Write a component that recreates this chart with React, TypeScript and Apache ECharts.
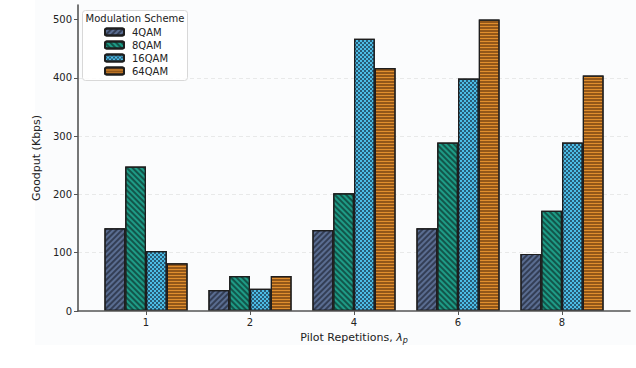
import React, { useEffect, useRef } from "react";
import * as echarts from "echarts";

const categories = ["1", "2", "4", "6", "8"];
const seriesNames = ["4QAM", "8QAM", "16QAM", "64QAM"];
const qam4 = [142, 36, 139, 142, 98];
const qam8 = [248, 60, 202, 289, 172];
const qam16 = [103, 38, 467, 399, 289];
const qam64 = [82, 60, 417, 500, 404];
const yTicks = [0, 100, 200, 300, 400, 500];

const FONT = "DejaVu Sans";

export default function App() {
  const ref = useRef<HTMLDivElement>(null);
  useEffect(() => {
    document.body.style.margin = "0";
    if (!ref.current) return;
    const chart = echarts.init(ref.current, null, { renderer: "svg" });
    const values = [qam4, qam8, qam16, qam64];
    const faces = ["#5a6d91", "#1e9b86", "#4cbde6", "#e08e2e"];
    const decals: any[] = [
      { symbol: "rect", dashArrayX: [1, 0], dashArrayY: [2, 2], rotation: -Math.PI / 4, color: "rgba(25,30,45,0.6)" },
      { symbol: "rect", dashArrayX: [1, 0], dashArrayY: [2, 2], rotation: Math.PI / 4, color: "rgba(10,40,35,0.6)" },
      { symbol: "rect", dashArrayX: [[2, 2], [0, 2, 2, 0]], dashArrayY: [2, 0], rotation: 0, color: "rgba(20,40,60,0.65)" },
      { symbol: "rect", dashArrayX: [1, 0], dashArrayY: [2, 1], rotation: 0, color: "rgba(95,50,12,0.6)" },
    ];
    const series = seriesNames.map((name, i) => ({
      name,
      type: "bar",
      xAxisIndex: 1,
      yAxisIndex: 1,
      data: values[i],
      barWidth: 20.8,
      barGap: "0%",
      itemStyle: {
        color: faces[i],
        borderColor: "#1e1e1e",
        borderWidth: 1.2,
        decal: decals[i],
      },
    }));
    const labelStyle = { fontFamily: FONT, fontSize: 10, color: "#222" };
    chart.setOption({
      animation: false,
      backgroundColor: "#ffffff",
      textStyle: { fontFamily: FONT },
      graphic: [
        { type: "rect", z: -10, silent: true, shape: { x: 35, y: 0, width: 601, height: 345 }, style: { fill: "#fbfcfd" } },
        { type: "rect", z: 10, shape: { x: 82.5, y: 10.5, width: 105, height: 70, r: 3 }, style: { fill: "rgba(255,255,255,0.85)", stroke: "#d8d8d8", lineWidth: 1 } },
        { type: "text", z: 11, x: 135, y: 18, style: { text: "Modulation Scheme", fontFamily: FONT, fontSize: 10, fill: "#222", align: "center", verticalAlign: "middle" } },
      ],
      legend: {
        z: 12,
        orient: "vertical",
        left: 104,
        top: 26,
        itemWidth: 19,
        itemHeight: 7,
        itemGap: 1,
        padding: 0,
        data: seriesNames,
        textStyle: { fontFamily: FONT, fontSize: 10, color: "#222", lineHeight: 12, padding: [0, 0, 0, 3] },
      },
      grid: [
        { left: 78, right: 6, top: 5, bottom: 57 },
        { left: 94, right: 22, top: 5, bottom: 57 },
      ],
      xAxis: [
        {
          gridIndex: 0, type: "value", min: 0, max: 1, z: 5,
          axisLine: { show: true, lineStyle: { color: "#555", width: 1.6 } },
          axisTick: { show: false }, axisLabel: { show: false }, splitLine: { show: false },
        },
        {
          gridIndex: 1, type: "category", data: categories,
          axisLine: { show: false },
          axisTick: { show: true, alignWithLabel: true, length: 4, lineStyle: { color: "#555" } },
          axisLabel: { ...labelStyle, margin: 6 },
          name: "Pilot Repetitions, {i|λ}{s|p}",
          nameLocation: "middle",
          nameGap: 20,
          nameTextStyle: {
            fontFamily: FONT, fontSize: 11, color: "#222",
            rich: {
              i: { fontFamily: FONT, fontSize: 11, fontStyle: "italic", color: "#222" },
              s: { fontFamily: FONT, fontSize: 8, fontStyle: "italic", color: "#222", verticalAlign: "bottom", padding: [5, 0, 0, 0] },
            },
          },
        },
      ],
      yAxis: [
        {
          gridIndex: 0, type: "value", min: 0, max: 525, interval: 100,
          axisLine: { show: true, lineStyle: { color: "#555", width: 1.6 } },
          axisTick: { show: true, length: 4, lineStyle: { color: "#555" }, customValues: yTicks },
          axisLabel: { ...labelStyle, margin: 6, customValues: yTicks },
          splitLine: { show: true, showMaxLine: false, showMinLine: false, lineStyle: { color: "#e3e3e3", type: [4, 3], width: 0.8 } },
          name: "Goodput (Kbps)",
          nameLocation: "middle",
          nameGap: 32,
          nameTextStyle: { fontFamily: FONT, fontSize: 11, color: "#222" },
        },
        { gridIndex: 1, type: "value", min: 0, max: 525, show: false },
      ],
      series,
    });
    return () => chart.dispose();
  }, []);
  return <div ref={ref} style={{ width: 636, height: 368 }} />;
}
